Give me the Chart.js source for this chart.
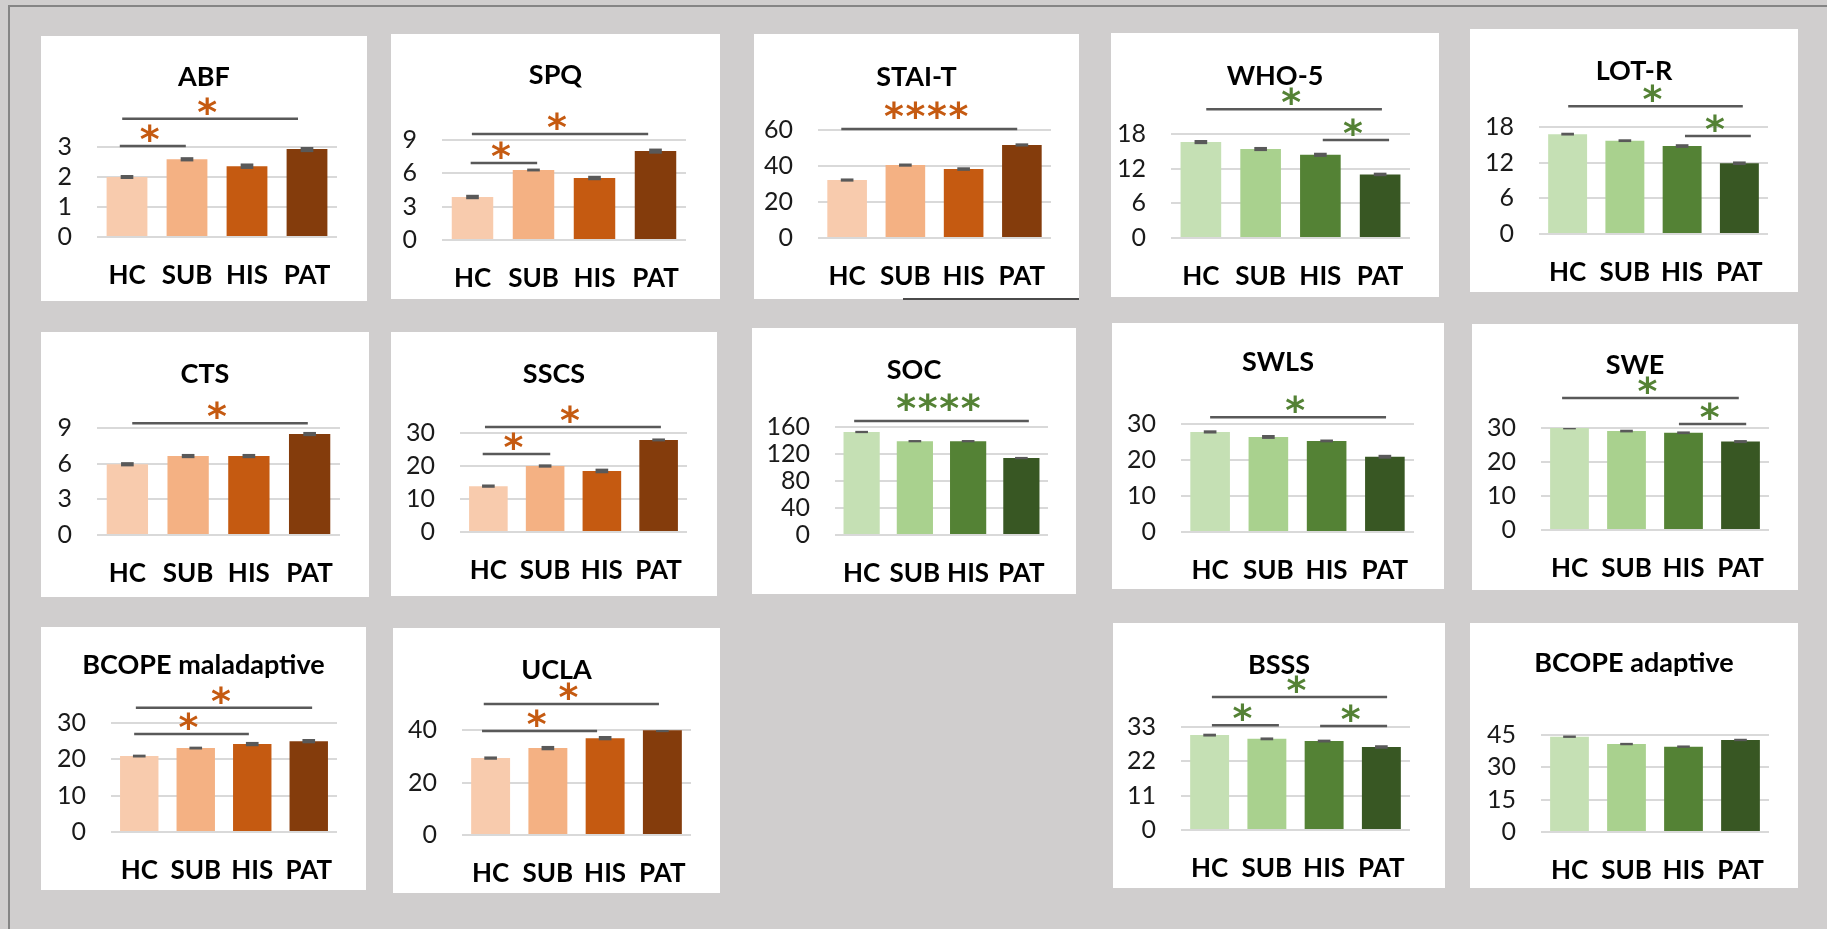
<!DOCTYPE html>
<html>
<head>
<meta charset="utf-8">
<title>Group comparisons by questionnaire</title>
<script src="https://cdn.jsdelivr.net/npm/chart.js@4.4.1/dist/chart.umd.min.js"></script>
<style>
  html, body { margin: 0; padding: 0; background: #d0cece; }
  #sheet { position: relative; width: 1827px; height: 929px; overflow: hidden; background: #d0cece; }
  .frame { position: absolute; background: #858585; }
  .panel { position: absolute; background: #ffffff; }
  .panel canvas { display: block; }
  .rule { position: absolute; background: #4a4a4a; }
</style>
</head>
<body>
<div id="sheet">
  <div class="frame" style="left:8px;top:5px;width:1819px;height:2px;"></div>
  <div class="frame" style="left:8px;top:5px;width:2px;height:924px;"></div>
</div>
<script>
// ---- groups ----
const groups = ['HC', 'SUB', 'HIS', 'PAT'];

// ---- means and standard errors per questionnaire ----
const abfMeans = [2.00, 2.59, 2.36, 2.93];
const abfErr = [0.055, 0.06, 0.08, 0.09];
const abfTicks = [0, 1, 2, 3];

const spqMeans = [3.87, 6.30, 5.58, 8.00];
const spqErr = [0.17, 0.10, 0.17, 0.20];
const spqTicks = [0, 3, 6, 9];

const staiMeans = [32.2, 40.5, 38.3, 51.7];
const staiErr = [0.7, 0.7, 0.8, 0.7];
const staiTicks = [0, 20, 40, 60];

const whoMeans = [16.6, 15.4, 14.4, 11.0];
const whoErr = [0.3, 0.3, 0.3, 0.25];
const whoTicks = [0, 6, 12, 18];

const lotMeans = [16.8, 15.7, 14.8, 11.9];
const lotErr = [0.18, 0.18, 0.25, 0.25];
const lotTicks = [0, 6, 12, 18];

const ctsMeans = [5.95, 6.64, 6.64, 8.49];
const ctsErr = [0.15, 0.15, 0.15, 0.15];
const ctsTicks = [0, 3, 6, 9];

const sscsMeans = [13.9, 20.0, 18.5, 27.9];
const sscsErr = [0.4, 0.4, 0.6, 0.35];
const sscsTicks = [0, 10, 20, 30];

const socMeans = [152.6, 139.0, 139.0, 114.0];
const socErr = [1.2, 1.2, 1.2, 1.2];
const socTicks = [0, 40, 80, 120, 160];

const swlsMeans = [27.8, 26.4, 25.3, 20.9];
const swlsErr = [0.35, 0.45, 0.3, 0.45];
const swlsTicks = [0, 10, 20, 30];

const sweMeans = [30.0, 29.1, 28.6, 26.0];
const sweErr = [0.3, 0.3, 0.3, 0.35];
const sweTicks = [0, 10, 20, 30];

const bcopeMalMeans = [20.9, 23.1, 24.2, 25.0];
const bcopeMalErr = [0.3, 0.3, 0.5, 0.5];
const bcopeMalTicks = [0, 10, 20, 30];

const uclaMeans = [29.3, 33.1, 36.9, 39.9];
const uclaErr = [0.5, 0.7, 0.7, 0.6];
const uclaTicks = [0, 20, 40];

const bsssMeans = [30.4, 29.2, 28.5, 26.6];
const bsssErr = [0.35, 0.35, 0.35, 0.45];
const bsssTicks = [0, 11, 22, 33];

const bcopeAdMeans = [44.2, 40.8, 39.6, 42.7];
const bcopeAdErr = [0.4, 0.4, 0.4, 0.4];
const bcopeAdTicks = [0, 15, 30, 45];

// ---- significant contrasts:
// [start, end] on the category axis (group index units), number of stars, level on the value axis
const abfSig = [[-0.08, 2.85, 1, 3.94], [-0.12, 0.98, 1, 3.03]];
const spqSig = [[-0.01, 2.88, 1, 9.55], [-0.03, 1.06, 1, 6.94]];
const staiSig = [[-0.10, 2.92, 4, 60.6]];
const whoSig = [[0.09, 3.03, 1, 22.3], [2.04, 3.15, 1, 16.95]];
const lotSig = [[0.01, 3.06, 1, 21.5], [2.05, 3.20, 1, 16.5]];
const ctsSig = [[0.08, 2.97, 1, 9.41]];
const sscsSig = [[-0.06, 3.04, 1, 31.8], [-0.10, 1.09, 1, 23.6]];
const socSig = [[-0.14, 3.14, 4, 168.9]];
const swlsSig = [[0.00, 3.02, 1, 31.9]];
const sweSig = [[-0.13, 2.97, 1, 38.8], [1.92, 3.10, 1, 31.2]];
const bcopeMalSig = [[-0.06, 3.06, 1, 34.2], [-0.09, 1.94, 1, 27.0]];
const uclaSig = [[-0.12, 2.94, 1, 49.9], [-0.15, 1.86, 1, 39.6]];
const bsssSig = [[0.04, 3.10, 1, 42.6], [0.04, 1.21, 1, 33.6], [1.93, 3.10, 1, 33.3]];
const bcopeAdSig = [];

// ---- colour schemes ----
const palettes = {
  orange: { bars: ['#F8CBAD', '#F4B183', '#C55A11', '#843C0C'], star: '#C55A11' },
  green:  { bars: ['#C5E0B4', '#A9D18E', '#548235', '#385723'], star: '#548235' }
};

// ---- panel list: box = white card [left, top, right, bottom], plot = grid area [left, top, right, bottom] ----
const panels = [
  { title: 'ABF', means: abfMeans, err: abfErr, ticks: abfTicks, sig: abfSig, pal: 'orange', box: [41, 36, 367, 301], plot: [97, 147, 337, 237], titleY: 40 },
  { title: 'SPQ', means: spqMeans, err: spqErr, ticks: spqTicks, sig: spqSig, pal: 'orange', box: [391, 34, 720, 299], plot: [442, 140, 686, 240], titleY: 42 },
  { title: 'STAI-T', means: staiMeans, err: staiErr, ticks: staiTicks, sig: staiSig, pal: 'orange', box: [754, 34, 1079, 299], plot: [818, 130, 1051, 238], titleY: 42 },
  { title: 'WHO-5', means: whoMeans, err: whoErr, ticks: whoTicks, sig: whoSig, pal: 'green', box: [1111, 33, 1439, 297], plot: [1171, 134, 1410, 238], titleY: 42 },
  { title: 'LOT-R', means: lotMeans, err: lotErr, ticks: lotTicks, sig: lotSig, pal: 'green', box: [1470, 29, 1798, 292], plot: [1539, 127, 1768, 234], titleY: 41 },
  { title: 'CTS', means: ctsMeans, err: ctsErr, ticks: ctsTicks, sig: ctsSig, pal: 'orange', box: [41, 332, 369, 597], plot: [97, 428, 340, 535], titleY: 41 },
  { title: 'SSCS', means: sscsMeans, err: sscsErr, ticks: sscsTicks, sig: sscsSig, pal: 'orange', box: [391, 332, 717, 596], plot: [460, 433, 687, 532], titleY: 41 },
  { title: 'SOC', means: socMeans, err: socErr, ticks: socTicks, sig: socSig, pal: 'green', box: [752, 328, 1076, 594], plot: [835, 427, 1048, 535], titleY: 41 },
  { title: 'SWLS', means: swlsMeans, err: swlsErr, ticks: swlsTicks, sig: swlsSig, pal: 'green', box: [1112, 323, 1444, 589], plot: [1181, 424, 1414, 532], titleY: 38 },
  { title: 'SWE', means: sweMeans, err: sweErr, ticks: sweTicks, sig: sweSig, pal: 'green', box: [1472, 324, 1798, 590], plot: [1541, 428, 1769, 530], titleY: 40 },
  { title: 'BCOPE maladaptive', means: bcopeMalMeans, err: bcopeMalErr, ticks: bcopeMalTicks, sig: bcopeMalSig, pal: 'orange', box: [41, 627, 366, 890], plot: [111, 723, 337, 832], titleY: 39 },
  { title: 'UCLA', means: uclaMeans, err: uclaErr, ticks: uclaTicks, sig: uclaSig, pal: 'orange', box: [393, 628, 720, 893], plot: [462, 730, 691, 835], titleY: 41 },
  { title: 'BSSS', means: bsssMeans, err: bsssErr, ticks: bsssTicks, sig: bsssSig, pal: 'green', box: [1113, 623, 1445, 888], plot: [1181, 727, 1410, 830], titleY: 41 },
  { title: 'BCOPE adaptive', means: bcopeAdMeans, err: bcopeAdErr, ticks: bcopeAdTicks, sig: bcopeAdSig, pal: 'green', box: [1470, 623, 1798, 888], plot: [1541, 735, 1769, 832], titleY: 41 }
];

const FONT = 'Lato, "Open Sans", sans-serif';

// draw a string so that its inked glyphs are centred on (cx, cy)
function inkCentered(ctx, text, cx, cy) {
  const m = ctx.measureText(text);
  ctx.textAlign = 'center';
  ctx.textBaseline = 'alphabetic';
  ctx.fillText(text, cx, cy + (m.actualBoundingBoxAscent - m.actualBoundingBoxDescent) / 2);
}

// title, significance brackets and stars
const panelDecor = {
  id: 'panelDecor',
  afterDraw(chart, args, opts) {
    const ctx = chart.ctx;
    const xs = chart.scales.x, ys = chart.scales.y;
    ctx.save();
    ctx.fillStyle = '#000000';
    ctx.font = 'bold 27px ' + FONT;
    inkCentered(ctx, opts.title, chart.width / 2, opts.titleY);

    for (const [from, to, stars, level] of opts.sig) {
      const xa = xs.getPixelForValue(from);
      const xb = xs.getPixelForValue(to);
      const y = ys.getPixelForValue(level);
      ctx.strokeStyle = '#595959';
      ctx.lineWidth = 2.5;
      ctx.beginPath();
      ctx.moveTo(xa, y);
      ctx.lineTo(xb, y);
      ctx.stroke();

      ctx.fillStyle = opts.starColor;
      ctx.font = 'bold 38px "DejaVu Sans", sans-serif';
      const mid = (xa + xb) / 2 - 3;
      const lift = stars > 1 ? 19 : 13;
      for (let k = 0; k < stars; k++) {
        inkCentered(ctx, '*', mid + (k - (stars - 1) / 2) * 21.5, y - lift);
      }
    }
    ctx.restore();
  }
};

function buildPanel(p) {
  const sheet = document.getElementById('sheet');
  const [x0, y0, x1, y1] = p.box;
  const [pl, pt, pr, pb] = p.plot;
  const w = x1 - x0, h = y1 - y0;

  const card = document.createElement('div');
  card.className = 'panel';
  card.style.left = x0 + 'px';
  card.style.top = y0 + 'px';
  card.style.width = w + 'px';
  card.style.height = h + 'px';
  const cv = document.createElement('canvas');
  cv.width = w; cv.height = h;
  cv.style.width = w + 'px'; cv.style.height = h + 'px';
  card.appendChild(cv);
  sheet.appendChild(card);

  const pal = palettes[p.pal];
  const top = p.ticks[p.ticks.length - 1];

  new Chart(cv, {
    type: 'bar',
    data: {
      labels: groups,
      datasets: [
        {
          // standard-error caps
          data: p.means.map((m, i) => [m - p.err[i], m + p.err[i]]),
          backgroundColor: '#595959',
          barThickness: 12,
          grouped: false,
          order: 0
        },
        {
          data: p.means,
          backgroundColor: pal.bars,
          barPercentage: 0.68,
          categoryPercentage: 1,
          grouped: false,
          order: 1
        }
      ]
    },
    options: {
      responsive: false,
      animation: false,
      devicePixelRatio: 1,
      layout: { padding: { left: 0, right: x1 - pr, top: pt - y0, bottom: 0 } },
      plugins: {
        legend: { display: false },
        tooltip: { enabled: false },
        title: { display: false },
        panelDecor: { title: p.title, titleY: p.titleY, sig: p.sig, starColor: pal.star }
      },
      scales: {
        x: {
          grid: { display: false, drawTicks: false },
          border: { display: false },
          ticks: { color: '#000000', font: { family: FONT, size: 26, weight: 'bold' }, padding: 23, maxRotation: 0, autoSkip: false },
          afterFit(scale) { scale.height = y1 - pb; }
        },
        y: {
          min: 0,
          max: top,
          afterBuildTicks(scale) { scale.ticks = p.ticks.map(v => ({ value: v })); },
          grid: { color: '#d9d9d9', lineWidth: 2, drawTicks: false },
          border: { display: false },
          ticks: { color: '#1a1a1a', font: { family: FONT, size: 25 }, padding: 25, autoSkip: false },
          afterFit(scale) { scale.width = pl - x0; }
        }
      }
    },
    plugins: [panelDecor]
  });
}

function drawAll() {
  panels.forEach(buildPanel);
  // short rule along the lower edge of the STAI-T card
  const rule = document.createElement('div');
  rule.className = 'rule';
  Object.assign(rule.style, { left: '903px', top: '298px', width: '176px', height: '2px' });
  document.getElementById('sheet').appendChild(rule);
}

if (document.fonts && document.fonts.load) {
  Promise.all([
    document.fonts.load('bold 27px Lato'),
    document.fonts.load('25px Lato'),
    document.fonts.load('bold 38px "DejaVu Sans"')
  ]).then(drawAll, drawAll);
} else {
  drawAll();
}
</script>
</body>
</html>
